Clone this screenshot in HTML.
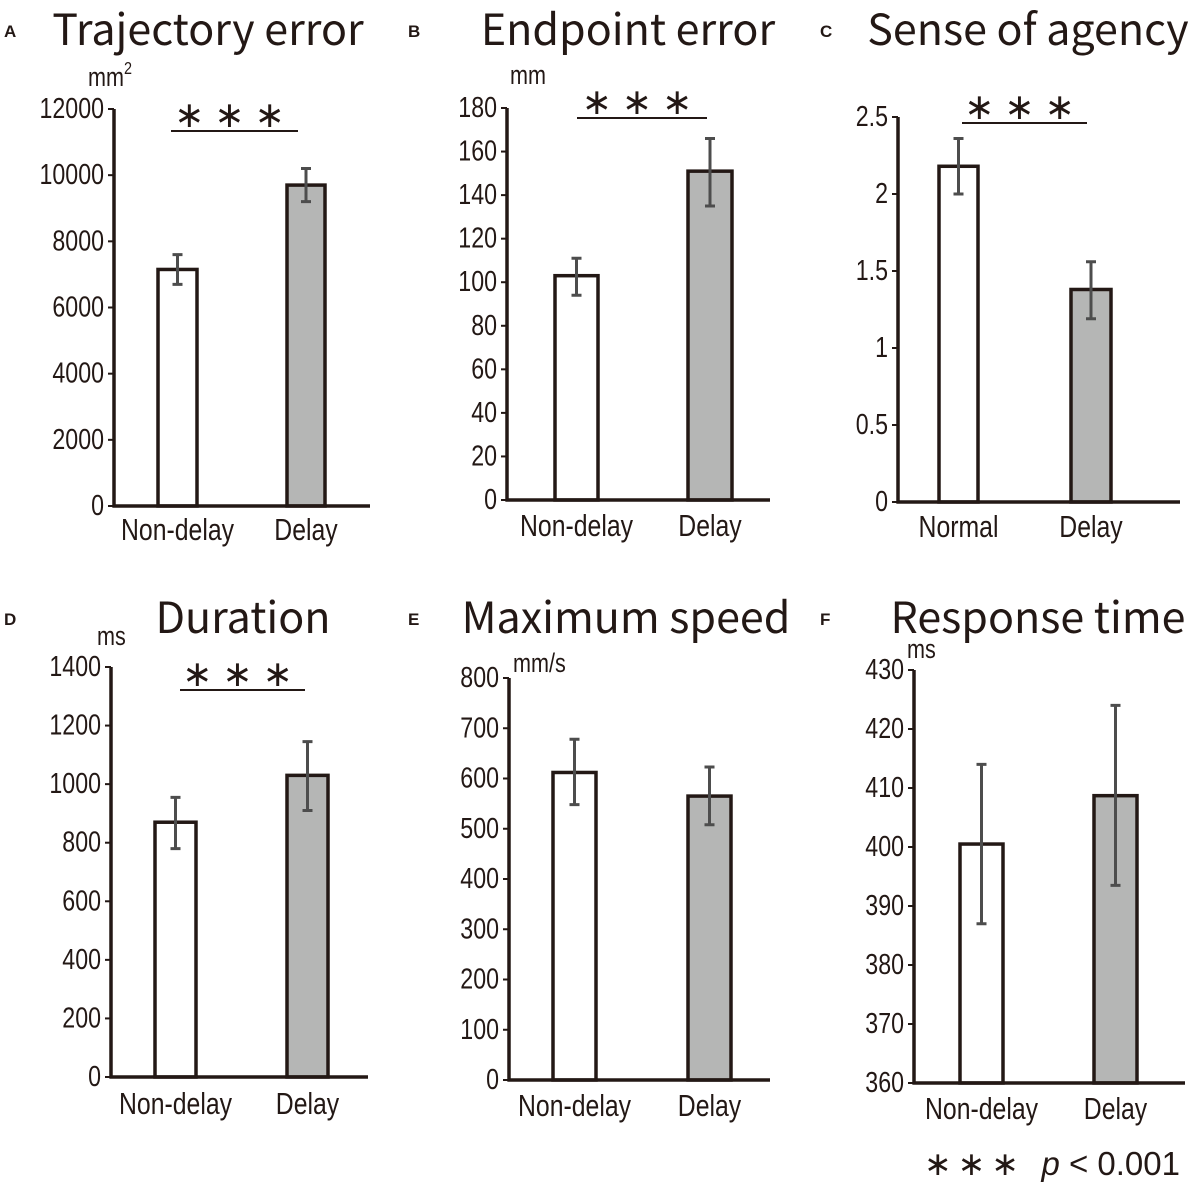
<!DOCTYPE html>
<html><head><meta charset="utf-8"><style>
body{margin:0;background:#fff;width:1200px;height:1188px;overflow:hidden}
svg{display:block}
text{font-family:"Liberation Sans",sans-serif;fill:#231815}
.title{font-family:"Noto Sans CJK JP","Liberation Sans",sans-serif;font-size:43px}
.lbl{font-family:"Liberation Sans",sans-serif;font-weight:bold;font-size:17px}
</style></head><body>
<svg id="fig" width="1200" height="1188" xmlns="http://www.w3.org/2000/svg"></svg>
<script>
const categoriesA=["Non-delay","Delay"], valuesA=[7150,9700], errLoA=[6700,9200], errHiA=[7600,10200], ticksA=[0,2000,4000,6000,8000,10000,12000];
const categoriesB=["Non-delay","Delay"], valuesB=[103,151], errLoB=[94,135], errHiB=[111,166], ticksB=[0,20,40,60,80,100,120,140,160,180];
const categoriesC=["Normal","Delay"], valuesC=[2.18,1.38], errLoC=[2.0,1.19], errHiC=[2.36,1.56], ticksC=[0,0.5,1,1.5,2,2.5];
const categoriesD=["Non-delay","Delay"], valuesD=[870,1030], errLoD=[780,910], errHiD=[955,1145], ticksD=[0,200,400,600,800,1000,1200,1400];
const categoriesE=["Non-delay","Delay"], valuesE=[612,565], errLoE=[548,508], errHiE=[678,623], ticksE=[0,100,200,300,400,500,600,700,800];
const categoriesF=["Non-delay","Delay"], valuesF=[400.5,408.7], errLoF=[387,393.5], errHiF=[414,424], ticksF=[360,370,380,390,400,410,420,430];

const svg=document.getElementById('fig');
const NS='http://www.w3.org/2000/svg';
function mk(tag,attrs,parent,txt){const e=document.createElementNS(NS,tag);for(const k in attrs)e.setAttribute(k,attrs[k]);if(txt!==undefined)e.textContent=txt;(parent||svg).appendChild(e);return e;}
function ctext(x,y,size,anchor,txt,parent){return mk('text',{x:0,y:0,'font-size':size,'text-anchor':anchor,transform:`translate(${x},${y}) scale(0.8,1)`},parent,txt);}

const panels=[
 {id:'a',letter:'A',title:'Trajectory error',tx:208,ty:45,unit:'mm',ux:88,uy:86,ax:114,top:109,bot:506,xend:370,bars:[[158,197],[287,325]],cats:categoriesA,vals:valuesA,lo:errLoA,hi:errHiA,ticks:ticksA,sig:[171,298,131],catY:540},
 {id:'b',letter:'B',title:'Endpoint error',tx:628,ty:45,unit:'mm',ux:510,uy:84,ax:507,top:108,bot:500,xend:770,bars:[[555,598],[688,732]],cats:categoriesB,vals:valuesB,lo:errLoB,hi:errHiB,ticks:ticksB,sig:[577,707,118],catY:536},
 {id:'c',letter:'C',title:'Sense of agency',tx:1028,ty:45,unit:'',ux:0,uy:0,ax:898,top:117,bot:502,xend:1180,bars:[[939,978],[1071,1111]],cats:categoriesC,vals:valuesC,lo:errLoC,hi:errHiC,ticks:ticksC,sig:[962,1087,123],catY:537},
 {id:'d',letter:'D',title:'Duration',tx:243,ty:633,unit:'ms',ux:97,uy:645,ax:111,top:667,bot:1077,xend:368,bars:[[155,196],[287,328]],cats:categoriesD,vals:valuesD,lo:errLoD,hi:errHiD,ticks:ticksD,sig:[180,305,690],catY:1114},
 {id:'e',letter:'E',title:'Maximum speed',tx:626,ty:633,unit:'mm/s',ux:513,uy:672,ax:509,top:678,bot:1080,xend:770,bars:[[553,596],[688,731]],cats:categoriesE,vals:valuesE,lo:errLoE,hi:errHiE,ticks:ticksE,sig:null,catY:1116},
 {id:'f',letter:'F',title:'Response time',tx:1038,ty:633,unit:'ms',ux:907,uy:658,ax:914,top:670,bot:1083,xend:1185,bars:[[960,1003],[1094,1137]],cats:categoriesF,vals:valuesF,lo:errLoF,hi:errHiF,ticks:ticksF,sig:null,catY:1119}
];
const lblPos={a:[4,37],b:[408,37],c:[820,37],d:[4,625],e:[408,625],f:[820,625]};

panels.forEach(p=>{
  const g=mk('g',{});
  
  
  const t0=p.ticks[0],t1=p.ticks[p.ticks.length-1];
  const y=v=>p.bot-(v-t0)/(t1-t0)*(p.bot-p.top);
  const L=mk('text',{x:lblPos[p.id][0],y:lblPos[p.id][1],class:'lbl'},g,p.letter);
  
  
  const T=mk('text',{x:p.tx,y:p.ty,class:'title','text-anchor':'middle'},g,p.title);
  
  
  if(p.unit){const u=ctext(p.ux,p.uy,'27','start',p.unit,g);
    if(p.id==='a'){mk('tspan',{dy:'-12','font-size':'18'},u,'2');}
    
    }
  p.ticks.forEach(v=>{
    const tk=mk('line',{x1:p.ax-6,x2:p.ax,y1:y(v),y2:y(v),stroke:'#231815','stroke-width':2},g);
    
    
    const tl=ctext(p.ax-10,y(v)+9,'29','end',String(v),g);
    
    
  });
  p.bars.forEach((b,i)=>{
    const r=mk('rect',{x:b[0],y:y(p.vals[i]),width:b[1]-b[0],height:p.bot-y(p.vals[i]),fill:i?'#b5b6b5':'#fff',stroke:'#231815','stroke-width':3.5},g);
    
    
    const cx=(b[0]+b[1])/2;
    const e=mk('path',{d:`M${cx},${y(p.lo[i])}V${y(p.hi[i])}M${cx-5},${y(p.lo[i])}h10M${cx-5},${y(p.hi[i])}h10`,stroke:'#4d4d4d','stroke-width':3,fill:'none'},g);
    
    
    const c=ctext(cx,p.catY,'31','middle',p.cats[i],g);
    
    
  });
  const ya=mk('line',{x1:p.ax,x2:p.ax,y1:p.top,y2:p.bot+1.5,stroke:'#231815','stroke-width':3.5},g);
  
  
  const xa=mk('line',{x1:p.ax-1.5,x2:p.xend,y1:p.bot,y2:p.bot,stroke:'#231815','stroke-width':3.5},g);
  
  
  if(p.sig){
    const s=mk('line',{x1:p.sig[0],x2:p.sig[1],y1:p.sig[2],y2:p.sig[2],stroke:'#231815','stroke-width':2},g);
    
    
    const st=mk('text',{x:(p.sig[0]+p.sig[1])/2,y:p.sig[2]-4,'font-size':'36','text-anchor':'middle','letter-spacing':'10','font-family':'"DejaVu Sans",sans-serif','font-weight':'normal'},g,'∗∗∗');
    
    
  }
});
const fn=mk('text',{x:1180,y:1175,'font-size':'33','text-anchor':'end','font-family':'"Liberation Sans",sans-serif'});


mk('tspan',{'font-family':'"DejaVu Sans",sans-serif','letter-spacing':'6'},fn,'∗∗∗ ');
mk('tspan',{'font-style':'italic'},fn,'p');
mk('tspan',{},fn,' < 0.001');
</script>
</body></html>
